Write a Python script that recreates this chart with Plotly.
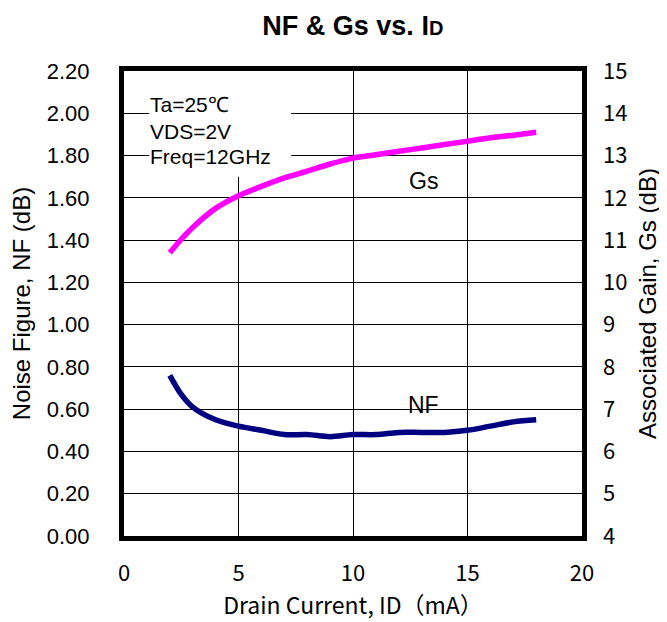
import plotly.graph_objects as go

# datos
id_ma = [2, 2.5, 3, 4, 5, 6, 7, 8, 9, 10, 11, 12, 13, 14, 15, 16, 17, 18]
nf_db = [0.76, 0.67, 0.61, 0.55, 0.52, 0.50, 0.48, 0.48, 0.47, 0.48, 0.48, 0.49, 0.49, 0.49, 0.50, 0.52, 0.54, 0.55]
gs_db = [10.70, 11.02, 11.30, 11.75, 12.05, 12.27, 12.47, 12.63, 12.80, 12.94, 13.02, 13.10, 13.18, 13.26, 13.34, 13.42, 13.48, 13.55]

nf_ticks = [0.0, 0.2, 0.4, 0.6, 0.8, 1.0, 1.2, 1.4, 1.6, 1.8, 2.0, 2.2]
gs_ticks = [4, 5, 6, 7, 8, 9, 10, 11, 12, 13, 14, 15]
id_ticks = [0, 5, 10, 15, 20]

fuente = "Liberation Sans, Arial, sans-serif"
fuente_jp = "Noto Sans CJK JP, Liberation Sans, sans-serif"

fig = go.Figure()
fig.add_trace(go.Scatter(x=id_ma, y=gs_db, mode="lines", yaxis="y2",
                         line=dict(color="#ff00ff", width=5.5, shape="spline"), name="Gs"))
fig.add_trace(go.Scatter(x=id_ma, y=nf_db, mode="lines",
                         line=dict(color="#000080", width=5.5, shape="spline"), name="NF"))

# caja blanca de condiciones
fig.add_shape(type="rect", xref="x", yref="y", x0=1.1, x1=7.3, y0=1.70, y1=2.2,
              fillcolor="white", line=dict(width=0), layer="between")

for texto, yy in [("Ta=25℃", 0.927), ("VDS=2V", 0.869), ("Freq=12GHz", 0.817)]:
    fig.add_annotation(text=texto, xref="paper", yref="paper", x=0.052, y=yy,
                       xanchor="left", yanchor="middle", showarrow=False,
                       font=dict(family=fuente, size=21, color="black"))

fig.add_annotation(text="Gs", xref="x", yref="y2", x=13.1, y=12.4, showarrow=False,
                   font=dict(family=fuente, size=23, color="black"))
fig.add_annotation(text="NF", xref="x", yref="y", x=13.1, y=0.62, showarrow=False,
                   font=dict(family=fuente, size=23, color="black"))

fig.update_layout(
    width=667, height=622,
    margin=dict(l=116, r=93, t=63, b=94),
    paper_bgcolor="white", plot_bgcolor="white",
    showlegend=False,
    title=dict(text="<b>NF &amp; Gs vs. I<span style='font-size:20px'>D</span></b>",
               x=0.517, xanchor="center", y=0.972, yanchor="middle",
               font=dict(family=fuente, size=27, color="black")),
    xaxis=dict(range=[0, 20], tickvals=id_ticks, showgrid=True, gridcolor="black", gridwidth=1,
               showline=True, linecolor="black", linewidth=5, mirror=True, zeroline=False,
               ticks="", ticklabelstandoff=14, automargin=False,
               tickfont=dict(family=fuente_jp, size=22, color="black"),
               title=dict(text="Drain Current, ID（mA）", standoff=6,
                          font=dict(family=fuente_jp, size=23, color="black"))),
    yaxis=dict(range=[0, 2.2], tickvals=nf_ticks, tickformat=".2f", showgrid=True,
               gridcolor="black", gridwidth=1, zeroline=False,
               showline=True, linecolor="black", linewidth=5, mirror=True,
               ticks="", ticklabelstandoff=25, automargin=False,
               tickfont=dict(family=fuente, size=22, color="black"),
               title=dict(text="Noise Figure, NF (dB)", standoff=12,
                          font=dict(family=fuente, size=24, color="black"))),
    yaxis2=dict(range=[4, 15], tickvals=gs_ticks, overlaying="y", side="right",
                showgrid=False, zeroline=False, ticks="", ticklabelstandoff=20, automargin=False,
                tickfont=dict(family=fuente_jp, size=22, color="black"),
                title=dict(text="Associated Gain, Gs (dB)", standoff=12,
                           font=dict(family=fuente, size=24, color="black"))),
)

fig.write_html("out.html")
